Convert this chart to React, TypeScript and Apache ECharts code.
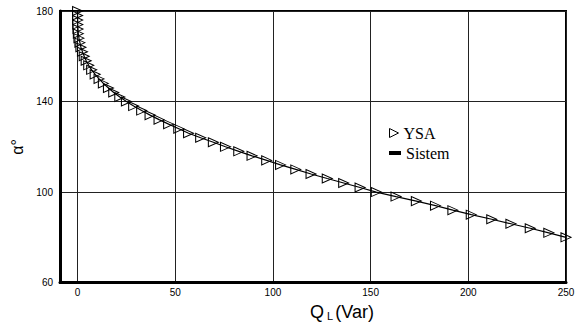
import React, { useEffect, useRef } from "react";
import * as echarts from "echarts";

// alpha (degrees) sampled every 2 degrees from 180 down to 80
const alphaValues: number[] = [
  180, 178, 176, 174, 172, 170, 168, 166, 164, 162, 160, 158, 156, 154, 152, 150,
  148, 146, 144, 142, 140, 138, 136, 134, 132, 130, 128, 126, 124, 122, 120, 118,
  116, 114, 112, 110, 108, 106, 104, 102, 100, 98, 96, 94, 92, 90, 88, 86, 84, 82, 80,
];
// QL (Var) read for each alpha — YSA (neural network) output
const ysaQ: number[] = [
  0, 0, 0.05, 0.1, 0.2, 0.4, 0.7, 1.2, 1.7, 2.5, 3.4, 4.4, 5.7, 7.2, 9.0, 11.0,
  13.2, 15.8, 18.5, 21.6, 25.0, 28.7, 32.8, 37.1, 41.7, 46.6, 51.8, 56.8, 63.0, 69.5, 75.7, 82.5,
  89.3, 96.8, 103.9, 111.7, 119.5, 127.8, 136.2, 144.6, 152.9, 163.0, 173.4, 183.2, 192.1, 201.5, 212.0, 221.8, 231.7, 241.2, 250,
];
// QL (Var) for the system (reference) curve
const sistemQ: number[] = [
  0, 0, 0.05, 0.1, 0.2, 0.4, 0.7, 1.2, 1.7, 2.5, 3.4, 4.4, 5.7, 7.2, 9.0, 11.0,
  13.2, 15.8, 18.5, 21.6, 25.0, 28.7, 32.8, 37.1, 41.7, 46.6, 51.8, 56.8, 63.0, 69.5, 75.7, 82.5,
  89.3, 96.8, 103.9, 111.7, 119.5, 127.8, 136.2, 144.6, 152.9, 163.0, 173.4, 183.2, 192.1, 201.5, 212.0, 221.8, 231.7, 241.2, 250,
];
const xTicks: number[] = [0, 50, 100, 150, 200, 250];
const yTicks: number[] = [60, 100, 140, 180];

const triPath = "path://M0,0 L10,5 L0,10 Z";

export default function App() {
  const ref = useRef<HTMLDivElement>(null);
  useEffect(() => {
    if (!ref.current) return;
    const chart = echarts.init(ref.current, null, { renderer: "svg" });
    const ysaData = ysaQ.map((q, i) => [q, alphaValues[i]]);
    const sisData = sistemQ.map((q, i) => [q, alphaValues[i]]);
    const sans = "'Liberation Sans', Arial, sans-serif";
    chart.setOption({
      animation: false,
      backgroundColor: "#fff",
      grid: {
        left: 60,
        right: 22,
        top: 11,
        bottom: 40,
        show: true,
        borderColor: "#000",
        borderWidth: 2,
        containLabel: false,
      },
      legend: [
        {
          data: [
            {
              name: "YSA",
              icon: triPath,
              itemStyle: { color: "transparent", borderColor: "#000", borderWidth: 1 },
            },
          ],
          orient: "vertical",
          left: 384,
          top: 120,
          itemWidth: 9,
          itemHeight: 9,
          itemGap: 6,
          textStyle: { fontFamily: "'Liberation Serif', serif", fontSize: 16, color: "#000" },
        },
        {
          data: [{ name: "Sistem", icon: "rect", itemStyle: { color: "#000" } }],
          orient: "vertical",
          left: 384,
          top: 140,
          itemWidth: 12,
          itemHeight: 4,
          textStyle: { fontFamily: "'Liberation Serif', serif", fontSize: 16, color: "#000" },
        },
      ],
      xAxis: {
        type: "value",
        min: -9,
        max: 250,
        name: "{q|Q}{s|L}{q|(Var)}",
        nameLocation: "middle",
        nameGap: 16,
        nameTextStyle: {
          padding: [0, 0, 0, 58],
          rich: {
            q: { fontSize: 18, fontFamily: sans, color: "#000" },
            s: { fontSize: 11, fontFamily: sans, color: "#000", verticalAlign: "bottom", padding: [8, 2, 0, 3] },
          },
        },
        axisLine: { show: true, onZero: false, lineStyle: { color: "#000", width: 3 } },
        axisTick: { show: false, customValues: xTicks },
        axisLabel: {
          customValues: xTicks,
          color: "#000",
          fontSize: 10,
          fontFamily: sans,
          margin: 5,
        },
        splitLine: { show: true, lineStyle: { color: "#222", width: 1 } },
      },
      yAxis: {
        type: "value",
        min: 60,
        max: 180,
        name: "α°",
        nameLocation: "middle",
        nameGap: 25,
        nameRotate: 90,
        nameTextStyle: { fontSize: 16, fontFamily: sans, color: "#000", padding: [0, 0, 0, 0] },
        axisLine: { show: true, onZero: false, lineStyle: { color: "#000", width: 3 } },
        axisTick: { show: false, customValues: yTicks },
        axisLabel: {
          customValues: yTicks,
          color: "#000",
          fontSize: 10,
          fontFamily: sans,
          margin: 7,
        },
        splitLine: { show: true, lineStyle: { color: "#222", width: 1 } },
      },
      series: [
        {
          name: "Sistem",
          type: "line",
          data: sisData,
          showSymbol: false,
          symbol: "none",
          lineStyle: { color: "#000", width: 1.2 },
          itemStyle: { color: "#000" },
          z: 2,
        },
        {
          name: "YSA",
          type: "line",
          data: ysaData,
          symbol: "triangle",
          symbolRotate: -90,
          symbolSize: [9, 10],
          lineStyle: { width: 0, opacity: 0 },
          itemStyle: { color: "transparent", borderColor: "#000", borderWidth: 1 },
          z: 3,
        },
      ],
    });
    return () => chart.dispose();
  }, []);
  return (
    <div
      ref={ref}
      style={{ position: "fixed", left: 0, top: 0, width: 588, height: 326, background: "#fff" }}
    />
  );
}
